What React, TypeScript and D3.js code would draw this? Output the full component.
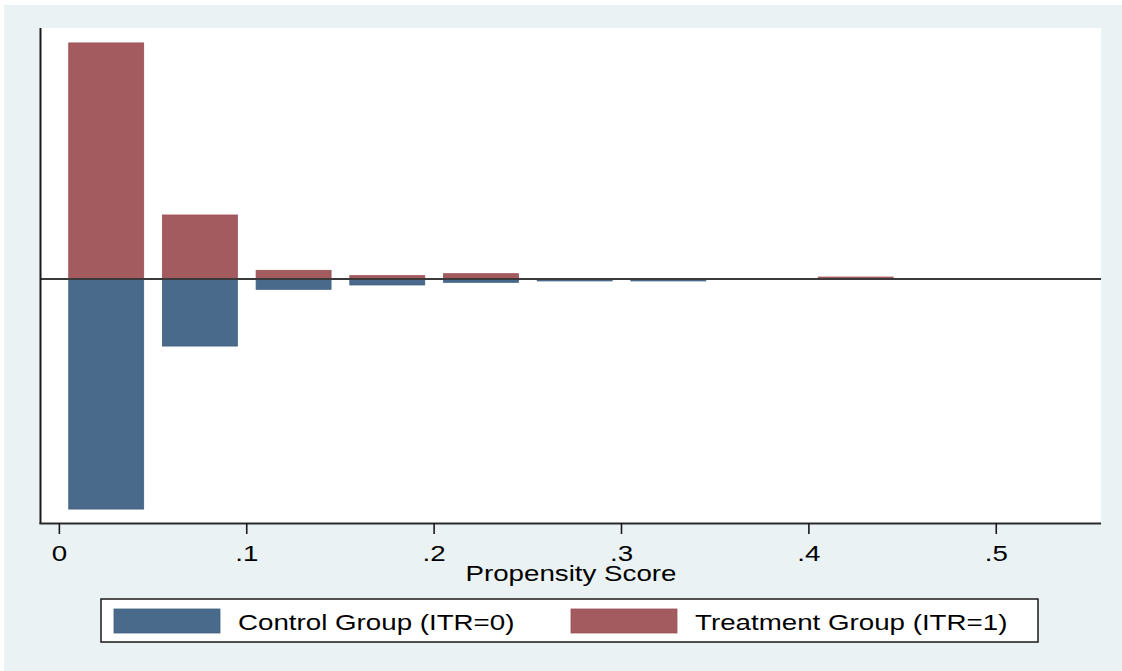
import React from "react";
import * as d3 from "d3";

const binCenters = [0.025, 0.075, 0.125, 0.175, 0.225, 0.275, 0.325, 0.375, 0.425, 0.475, 0.525];
const treatment = [16.93, 4.59, 0.62, 0.24, 0.38, 0, 0, 0, 0.14, 0, 0];
const control = [16.5, 4.81, 0.74, 0.43, 0.24, 0.14, 0.14, 0, 0, 0.04, 0.04];
const xTicks = [0, 0.1, 0.2, 0.3, 0.4, 0.5];
const xTickLabels = ["0", ".1", ".2", ".3", ".4", ".5"];
const seriesNames = ["Control Group (ITR=0)", "Treatment Group (ITR=1)"];

const W = 1122;
const H = 671;
const BLUE = "#496a8b";
const BLUE_S = "#40607f";
const RED = "#a45b60";
const RED_S = "#9a5055";
const BG = "#eaf2f3";
const FONT = "'Liberation Sans', Arial, sans-serif";
const SX = 1.26;

const plot = { left: 41, right: 1101, top: 28, bottom: 523 };

function SText({ x, y, text, anchor = "start", size = 22 }: { x: number; y: number; text: string; anchor?: string; size?: number }) {
  return (
    <g transform={`translate(${x},${y}) scale(${SX},1)`}>
      <text x={0} y={0} textAnchor={anchor as any} fontFamily={FONT} fontSize={size} fill="#000">
        {text}
      </text>
    </g>
  );
}

export default function App() {
  const x = d3.scaleLinear().domain([-0.0098, 0.5559]).range([plot.left, plot.right]);
  const y = d3.scaleLinear().domain([-17.5, 18]).range([plot.bottom, plot.top]);
  const halfW = 0.02;
  const y0 = y(0);

  return (
    <svg width={W} height={H} style={{ position: "absolute", left: 0, top: 0 }}>
      <rect x={0} y={0} width={W} height={H} fill="#ffffff" />
      <rect x={4} y={5} width={W - 4} height={H - 5} fill={BG} />
      <rect x={plot.left} y={plot.top} width={plot.right - plot.left} height={plot.bottom - plot.top} fill="#ffffff" />

      {binCenters.map((c, i) =>
        treatment[i] > 0 ? (
          <rect
            key={"t" + i}
            x={x(c - halfW)}
            y={y(treatment[i])}
            width={x(c + halfW) - x(c - halfW)}
            height={y0 - y(treatment[i])}
            fill={RED}
            stroke={RED_S}
            strokeWidth={0.8}
          />
        ) : null
      )}
      {binCenters.map((c, i) =>
        control[i] > 0 ? (
          <rect
            key={"c" + i}
            x={x(c - halfW)}
            y={y0}
            width={x(c + halfW) - x(c - halfW)}
            height={y(-control[i]) - y0}
            fill={BLUE}
            stroke={BLUE_S}
            strokeWidth={0.8}
          />
        ) : null
      )}

      {/* zero line */}
      <line x1={plot.left} x2={plot.right} y1={y0} y2={y0} stroke="#3a3a3a" strokeWidth={1.8} />

      {/* axes */}
      <line x1={plot.left - 0.5} x2={plot.left - 0.5} y1={plot.top} y2={plot.bottom + 1} stroke="#1a1a1a" strokeWidth={2} />
      <line x1={plot.left - 1.5} x2={plot.right} y1={plot.bottom + 0.5} y2={plot.bottom + 0.5} stroke="#2a2a2a" strokeWidth={2} />

      {xTicks.map((t, i) => (
        <g key={"xt" + i}>
          <line x1={x(t)} x2={x(t)} y1={plot.bottom} y2={plot.bottom + 11} stroke="#1a1a1a" strokeWidth={1.6} />
          <SText x={x(t)} y={561} text={xTickLabels[i]} anchor="middle" />
        </g>
      ))}

      <SText x={(plot.left + plot.right) / 2} y={581} text="Propensity Score" anchor="middle" />

      {/* legend */}
      <rect x={101} y={599} width={937} height={43} fill="#ffffff" stroke="#1a1a1a" strokeWidth={1.5} />
      <rect x={114} y={609} width={106} height={24} fill={BLUE} stroke={BLUE_S} strokeWidth={0.8} />
      <SText x={238} y={630} text={seriesNames[0]} />
      <rect x={571} y={609} width={106} height={24} fill={RED} stroke={RED_S} strokeWidth={0.8} />
      <SText x={695} y={630} text={seriesNames[1]} />
    </svg>
  );
}
